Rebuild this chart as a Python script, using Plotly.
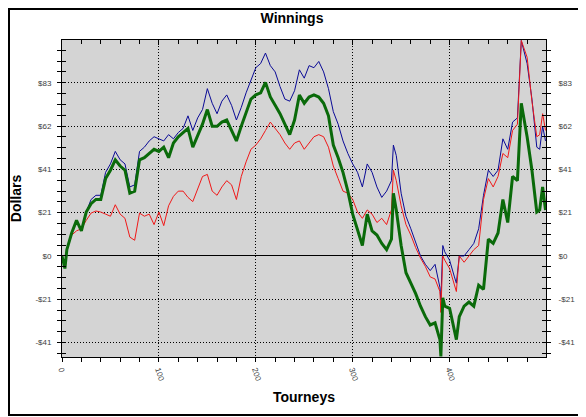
import plotly.graph_objects as go

# tourney number of each sample
tourneys = [
    0, 3, 5, 10, 15, 20, 25, 30, 35, 40, 45, 50, 55, 60, 65, 70, 75, 80, 85, 90, 95,
    100, 105, 110, 115, 120, 125, 130, 135, 140, 145, 150, 155, 160, 165, 170, 175, 180, 185, 190, 195,
    200, 205, 210, 215, 220, 225, 230, 235, 240, 245, 250, 255, 260, 265, 270, 275, 280, 285, 290, 295,
    300, 305, 310, 315, 320, 325, 330, 335, 340, 342, 345, 350, 355, 360, 365, 370, 375, 380, 385, 390, 391, 393, 395,
    400, 405, 407, 410, 415, 420, 425, 430, 435, 440, 445, 450, 455, 460, 465, 470, 474, 480, 485, 490, 493, 496, 499,
]

blue_vals = [
    0, -5, 3, 11, 17, 12.5, 21, 27, 29, 29, 40, 44, 50, 46, 44, 33, 34, 50, 52, 55, 57,
    56, 55, 58, 56, 59, 61, 67, 60, 66, 70, 80, 73, 68, 74, 77, 72, 65, 71, 78, 84,
    90, 92, 97, 91, 88, 81, 75, 74, 79, 89, 85, 91, 90, 93, 88, 80, 69, 63, 55, 49,
    44, 40, 33, 44, 40, 33, 28, 31, 36, 53, 48, 30, 19, 13, 7, 0, -4, -7, -4, -15, -21, 5, 2,
    -2, -10, -13, 0, 0, 3, 6, 13, 29, 41, 38, 41, 56, 51, 64, 66, 103, 92, 75, 52, 51, 62, 55,
]

red_vals = [
    0, -4, 3, 10, 12, 13, 17, 20.5, 21.5, 21, 20, 19, 24.5, 20, 18, 9, 7.5, 20.5, 19, 20, 15,
    21, 14.5, 24, 28.5, 31, 31, 28, 26, 32, 38, 39, 31, 29, 33, 36, 34, 27, 38, 45, 51,
    53, 56, 60, 64, 61, 58, 54, 51, 54, 55, 51, 54, 57, 58, 57, 52, 43, 37, 31, 30,
    27, 21, 18, 22, 20, 16, 18, 15, 22, 41, 36, 24, 15, 10, 4, -1, -5, -10, -11, -17, -27, 0, -2,
    -6, -14, -17, 0, -3, 0, 3, 5, 27, 37, 33, 38, 49, 47, 60, 63, 103, 95, 74, 57, 58, 68, 60,
]

green_vals = [
    0, -6, 3, 11, 17, 12, 21, 25, 27, 27, 37, 41, 46, 43, 41, 30, 31, 46, 47, 49, 51,
    50, 52, 47, 54, 57, 59, 61, 52, 58, 63, 70, 62, 62, 64, 65, 60, 55, 62, 69, 75,
    77, 78, 83, 76, 72, 68, 63, 58, 65, 77, 73, 76, 77, 76, 73, 67, 53, 47, 40, 31,
    20, 12, 5, 20, 12, 10, 6, 3, 8, 30, 22, 5, -8, -13, -18, -24, -29, -33, -32, -40, -48, -20, -24,
    -25, -35, -40, -29, -24, -22, -24, -14, -16, 8, 6, 11, 27, 16, 38, 36, 73, 57, 41, 21, 22, 33, 22,
]

y_tick_vals = [-41.4, -20.7, 0, 20.7, 41.4, 62.1, 82.8]
y_tick_text = ["-$41", "-$21", "$0", "$21", "$41", "$62", "$83"]
x_tick_vals = [0, 100, 200, 300, 400]

# the page body has an 8px margin, so the figure is drawn 8px smaller
W, H = 578, 409
ML, MR, MT, MB = 54, 40, 32, 60
pw, ph = W - ML - MR, H - MT - MB

fig = go.Figure()
fig.add_trace(go.Scatter(x=tourneys, y=blue_vals, mode="lines",
                         line=dict(color="#0a0a96", width=1), showlegend=False))
fig.add_trace(go.Scatter(x=tourneys, y=red_vals, mode="lines",
                         line=dict(color="#f01818", width=1), showlegend=False))
fig.add_trace(go.Scatter(x=tourneys, y=green_vals, mode="lines",
                         line=dict(color="#0a6a0a", width=3), showlegend=False))

# invisible traces so the extra tick axes get drawn
for xa, ya in [("x2", "y3"), ("x", "y2"), ("x", "y4")]:
    fig.add_trace(go.Scatter(x=[0], y=[0], xaxis=xa, yaxis=ya, mode="none",
                             showlegend=False, hoverinfo="skip"))

tick_font = dict(family="Liberation Sans", size=8, color="#404040")
xr = [0, 499.5]
yr = [-48.3, 103.25]

fig.update_layout(
    width=W, height=H,
    margin=dict(l=ML, r=MR, t=MT, b=MB),
    paper_bgcolor="white",
    plot_bgcolor="#d4d4d4",
    title=dict(text="Winnings", x=(292 - 8) / W, xanchor="center", y=1 - 10 / H, yanchor="middle",
               font=dict(family="Liberation Sans", size=14, color="black", weight="bold")),
    xaxis=dict(
        range=xr, tickvals=x_tick_vals, tickangle=72, tickfont=tick_font,
        ticks="outside", ticklen=4, tickcolor="black",
        minor=dict(dtick=20, tick0=0, ticks="outside", ticklen=4, tickcolor="black", showgrid=False),
        showgrid=True, gridcolor="black", griddash="1px,2px", gridwidth=1,
        showline=True, linecolor="black", linewidth=1, mirror=True,
        zeroline=False, automargin=False,
        title=dict(text="Tourneys", standoff=10,
                   font=dict(family="Liberation Sans", size=14, color="black", weight="bold")),
    ),
    xaxis2=dict(
        range=xr, overlaying="x", side="top", anchor="y3", tickvals=x_tick_vals,
        showticklabels=False, ticks="inside", ticklen=5, tickcolor="black",
        minor=dict(dtick=20, tick0=0, ticks="inside", ticklen=4, tickcolor="black", showgrid=False),
        showgrid=False, zeroline=False, showline=False,
    ),
    yaxis=dict(
        range=yr, tickvals=y_tick_vals, ticktext=y_tick_text, tickfont=tick_font,
        ticks="outside", ticklen=4, tickcolor="black", ticklabelstandoff=4,
        minor=dict(dtick=20.7 / 4, tick0=0, ticks="outside", ticklen=4, tickcolor="black", showgrid=False),
        showgrid=True, gridcolor="black", griddash="1px,2px", gridwidth=1,
        zeroline=True, zerolinecolor="black", zerolinewidth=1,
        showline=True, linecolor="black", linewidth=1, mirror=True,
        automargin=False,
        title=dict(text="Dollars", standoff=12,
                   font=dict(family="Liberation Sans", size=14, color="black", weight="bold")),
    ),
    yaxis2=dict(
        range=yr, overlaying="y", side="right", tickvals=y_tick_vals, ticktext=y_tick_text,
        tickfont=tick_font, ticks="outside", ticklen=4, tickcolor="black", ticklabelstandoff=6,
        minor=dict(dtick=20.7 / 4, tick0=0, ticks="outside", ticklen=4, tickcolor="black", showgrid=False),
        showgrid=False, zeroline=False, showline=False, automargin=False,
    ),
    yaxis3=dict(
        range=yr, overlaying="y", side="left", tickvals=y_tick_vals, showticklabels=False,
        ticks="inside", ticklen=4, tickcolor="black",
        minor=dict(dtick=20.7 / 4, tick0=0, ticks="inside", ticklen=4, tickcolor="black", showgrid=False),
        showgrid=False, zeroline=False, showline=False,
    ),
    yaxis4=dict(
        range=yr, overlaying="y", side="right", tickvals=y_tick_vals, showticklabels=False,
        ticks="inside", ticklen=4, tickcolor="black",
        minor=dict(dtick=20.7 / 4, tick0=0, ticks="inside", ticklen=4, tickcolor="black", showgrid=False),
        showgrid=False, zeroline=False, showline=False,
    ),
)

# outer frame around the picture (left/top edges fall on the figure edge)
fig.add_shape(type="rect", xref="paper", yref="paper",
              x0=(1 - ML) / pw, x1=(574 - ML) / pw,
              y0=(H - MB - 407) / ph, y1=(H - MB - 1) / ph,
              line=dict(color="black", width=2), layer="above")

fig.write_html("out.html")
